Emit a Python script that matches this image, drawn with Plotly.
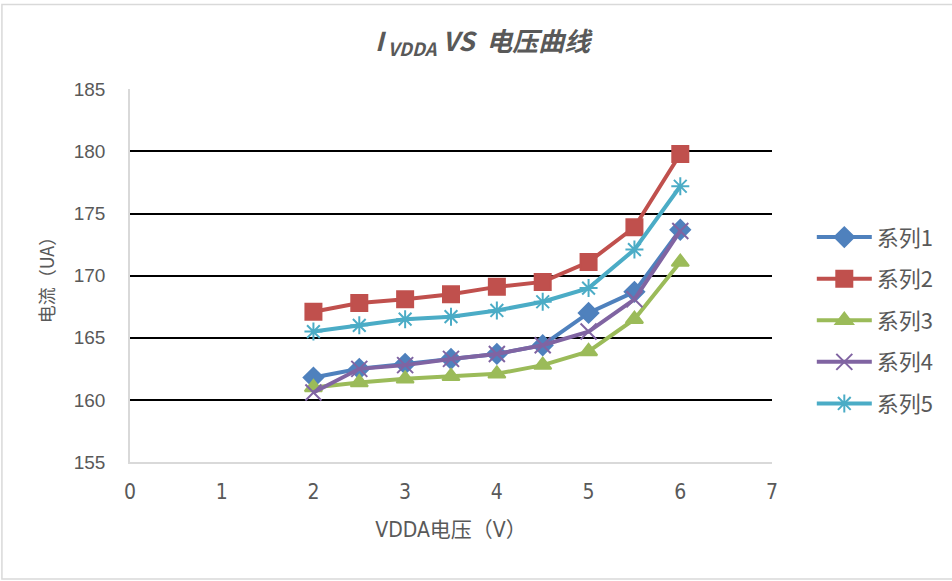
import plotly.graph_objects as go

x_vals = [2, 2.5, 3, 3.5, 4, 4.5, 5, 5.5, 6]
series1 = [161.8, 162.5, 162.9, 163.3, 163.7, 164.4, 167.0, 168.7, 173.7]
series2 = [167.1, 167.8, 168.1, 168.5, 169.1, 169.5, 171.1, 173.9, 179.8]
series3 = [161.0, 161.4, 161.7, 161.9, 162.1, 162.8, 163.9, 166.5, 171.1]
series4 = [160.6, 162.5, 162.8, 163.3, 163.7, 164.4, 165.5, 168.1, 173.6]
series5 = [165.5, 166.0, 166.5, 166.7, 167.2, 167.9, 169.0, 172.1, 177.2]
names = ["系列1", "系列2", "系列3", "系列4", "系列5"]
colors = ["#4F81BD", "#C0504D", "#9BBB59", "#8064A2", "#4BACC6"]
symbols = ["diamond", "square", "triangle-up", "x-thin", "asterisk"]
sizes = [15, 16, 15, 16, 15]
y_ticks = [155, 160, 165, 170, 175, 180, 185]
x_ticks = [0, 1, 2, 3, 4, 5, 6, 7]

font_narrow = "DejaVu Sans Condensed, sans-serif"
font_sans = "Liberation Sans, Noto Sans, sans-serif"
font_cjk = "Noto Sans CJK SC, sans-serif"

fig = go.Figure()
for i, ys in enumerate([series1, series2, series3, series4, series5]):
    fig.add_trace(go.Scatter(
        x=x_vals, y=ys, name=names[i], mode="lines+markers",
        legendgroup=names[i],
        line=dict(color=colors[i], width=4),
        marker=dict(symbol=symbols[i], size=sizes[i], color=colors[i],
                    line=dict(color=colors[i], width=2)),
    ))

fig.update_layout(
    width=952, height=581, autosize=False,
    paper_bgcolor="white", plot_bgcolor="white",
    margin=dict(l=130, r=180, t=89, b=119),
    title=dict(text="<b><i>I<sub>\u00a0VDDA</sub>\u00a0VS\u00a0\u00a0电压曲线</i></b>",
               x=0.507, xref="container", xanchor="center",
               y=0.928, yref="container", yanchor="middle",
               font=dict(family=font_cjk, size=26, color="#595959")),
    xaxis=dict(range=[0, 7], tickvals=x_ticks, showgrid=False, zeroline=False,
               showline=True, linecolor="#D9D9D9", linewidth=1.5,
               ticks="", ticklabelstandoff=10,
               tickfont=dict(family=font_narrow, size=21, color="#595959"),
               title=dict(text="VDDA电压（V）", standoff=19,
                          font=dict(family=font_narrow + ", " + font_cjk, size=21, color="#595959"))),
    yaxis=dict(range=[155, 185.03], tickvals=y_ticks, showgrid=True,
               gridcolor="black", gridwidth=2, zeroline=False,
               showline=True, linecolor="#D9D9D9", linewidth=1.5,
               ticks="", ticklabelstandoff=19,
               tickfont=dict(family=font_sans, size=19, color="#595959"),
               title=dict(text="电流（UA）", standoff=14,
                          font=dict(family=font_cjk, size=18, color="#595959"))),
    legend=dict(x=1.062, xanchor="left", y=0.38, yanchor="middle",
                font=dict(family=font_cjk, size=22, color="#595959"),
                tracegroupgap=10, itemwidth=55, bgcolor="rgba(0,0,0,0)"),
    shapes=[dict(type="rect", xref="paper", yref="paper",
                 x0=-0.1995, x1=1.29, y0=-0.3136, y1=1.2265,
                 line=dict(color="#D9D9D9", width=1.5), layer="below")],
)

fig.write_html("out.html", config={"displayModeBar": False},
               post_script="document.body.style.margin='0';document.body.style.overflow='hidden';")
